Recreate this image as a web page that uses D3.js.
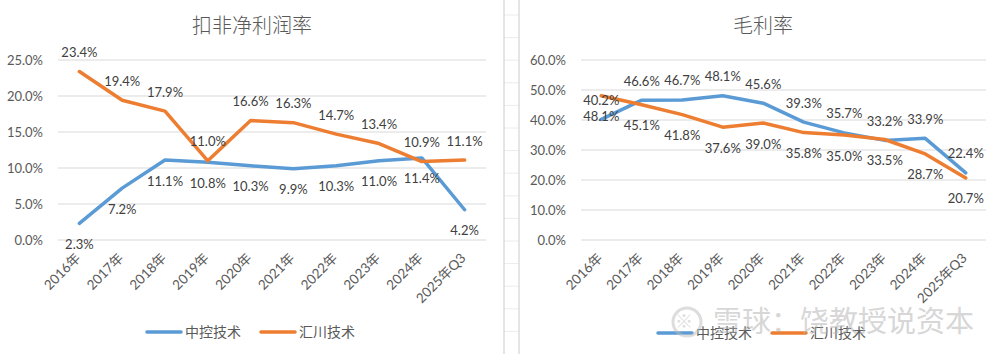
<!DOCTYPE html>
<html>
<head>
<meta charset="utf-8">
<script src="https://cdn.jsdelivr.net/npm/d3@7"></script>
<style>
  body { margin: 0; background: #fff; }
  svg { display: block; }
  text { font-family: Lato, "Noto Sans CJK SC", sans-serif; }
</style>
</head>
<body>
<svg id="chart" width="1000" height="354"></svg>
<script>
// Categories and values (percent)
const years = ["2016年", "2017年", "2018年", "2019年", "2020年", "2021年", "2022年", "2023年", "2024年", "2025年Q3"];
const zkNet = [2.3, 7.2, 11.1, 10.8, 10.3, 9.9, 10.3, 11.0, 11.4, 4.2];
const hcNet = [23.4, 19.4, 17.9, 11.0, 16.6, 16.3, 14.7, 13.4, 10.9, 11.1];
const zkGross = [40.2, 46.6, 46.7, 48.1, 45.6, 39.3, 35.7, 33.2, 33.9, 22.4];
const hcGross = [48.1, 45.1, 41.8, 37.6, 39.0, 35.8, 35.0, 33.5, 28.7, 20.7];
const seriesNames = ["中控技术", "汇川技术"];
const seriesColors = ["#5B9BD5", "#ED7D31"];

const svg = d3.select("#chart");

// Divider between the two panels (spreadsheet cell edges)
const divider = svg.append("g");
divider.selectAll("line.h")
  .data(d3.range(15, 354, 22.6))
  .enter().append("line")
  .attr("x1", 504).attr("x2", 519)
  .attr("y1", d => d).attr("y2", d => d)
  .attr("stroke", "#ececec");
[504, 519].forEach(x => {
  divider.append("line")
    .attr("x1", x).attr("x2", x).attr("y1", 0).attr("y2", 354)
    .attr("stroke", "#d4d4d4").attr("stroke-width", 1.2);
});

function drawChart(cfg) {
  const g = svg.append("g");

  const x = d3.scaleBand().domain(years).range([cfg.left, cfg.right]);
  const y = d3.scaleLinear().domain([0, cfg.max]).range([240, 60]);

  // Title
  g.append("text")
    .attr("x", cfg.cx).attr("y", 33)
    .attr("text-anchor", "middle")
    .attr("font-family", "'Noto Sans CJK SC', sans-serif")
    .attr("font-weight", 300)
    .attr("font-size", 20)
    .attr("fill", "#595959")
    .text(cfg.title);

  // Gridlines and y labels
  const ticks = d3.range(0, cfg.max + 0.001, cfg.step);
  g.selectAll("line.grid").data(ticks).enter().append("line")
    .attr("x1", cfg.left).attr("x2", cfg.right)
    .attr("y1", d => y(d)).attr("y2", d => y(d))
    .attr("stroke", "#d9d9d9").attr("stroke-width", 1);
  g.selectAll("text.ytick").data(ticks).enter().append("text")
    .attr("x", cfg.left - 15).attr("y", d => y(d))
    .attr("dy", "0.35em")
    .attr("text-anchor", "end")
    .attr("font-size", 13)
    .attr("fill", "#595959")
    .text(d => d.toFixed(1) + "%");

  // X labels, rotated
  g.selectAll("text.xtick").data(years).enter().append("text")
    .attr("transform", d => `translate(${x(d) + x.bandwidth() / 2 + 2},${259}) rotate(-45)`)
    .attr("text-anchor", "end")
    .attr("font-size", 13.5)
    .attr("fill", "#595959")
    .text(d => d);

  const line = d3.line()
    .x((d, i) => x(years[i]) + x.bandwidth() / 2)
    .y(d => y(d));

  cfg.series.forEach((vals, si) => {
    g.append("path")
      .datum(vals)
      .attr("d", line)
      .attr("fill", "none")
      .attr("stroke", seriesColors[si])
      .attr("stroke-width", 3.5)
      .attr("stroke-linejoin", "round")
      .attr("stroke-linecap", "round");
  });

  // Data labels: one series above, one below
  cfg.series.forEach((vals, si) => {
    const above = cfg.above[si];
    g.selectAll(null).data(vals).enter().append("text")
      .attr("x", (d, i) => x(years[i]) + x.bandwidth() / 2)
      .attr("y", d => y(d) + (above ? -19 : 21))
      .attr("dy", "0.35em")
      .attr("text-anchor", "middle")
      .attr("font-size", 13)
      .attr("fill", "#404040")
      .text(d => d.toFixed(1) + "%");
  });

  // Legend
  const lg = g.append("g").attr("transform", `translate(${cfg.cx - 105},${cfg.legendY})`);
  seriesNames.forEach((name, i) => {
    const ox = i * 114;
    lg.append("line")
      .attr("x1", ox).attr("x2", ox + 34)
      .attr("stroke", seriesColors[i]).attr("stroke-width", 3.5)
      .attr("stroke-linecap", "round");
    lg.append("text")
      .attr("x", ox + 38).attr("dy", "0.35em")
      .attr("font-family", "'Noto Sans CJK SC', sans-serif")
      .attr("font-size", 14)
      .attr("fill", "#595959")
      .text(name);
  });
}

drawChart({
  title: "扣非净利润率", cx: 252, left: 58, right: 486, max: 25, step: 5,
  series: [zkNet, hcNet], above: [false, true], legendY: 332
});

drawChart({
  title: "毛利率", cx: 763, left: 581, right: 986, max: 60, step: 10,
  series: [zkGross, hcGross], above: [true, false], legendY: 333
});

// Watermark
const wm = svg.append("g").attr("opacity", 0.5);
wm.append("circle")
  .attr("cx", 687).attr("cy", 322).attr("r", 14)
  .attr("fill", "none").attr("stroke", "#bdbdbd").attr("stroke-width", 3);
wm.append("text")
  .attr("x", 684).attr("y", 322).attr("dy", "0.35em")
  .attr("text-anchor", "middle")
  .attr("font-size", 18).attr("font-weight", "bold")
  .attr("fill", "#bdbdbd")
  .text("※");
wm.append("text")
  .attr("x", 713).attr("y", 322).attr("dy", "0.36em")
  .attr("font-family", "'Noto Sans CJK SC', sans-serif")
  .attr("font-size", 29)
  .attr("fill", "#b0b0b0")
  .text("雪球：饶教授说资本");
</script>
</body>
</html>
